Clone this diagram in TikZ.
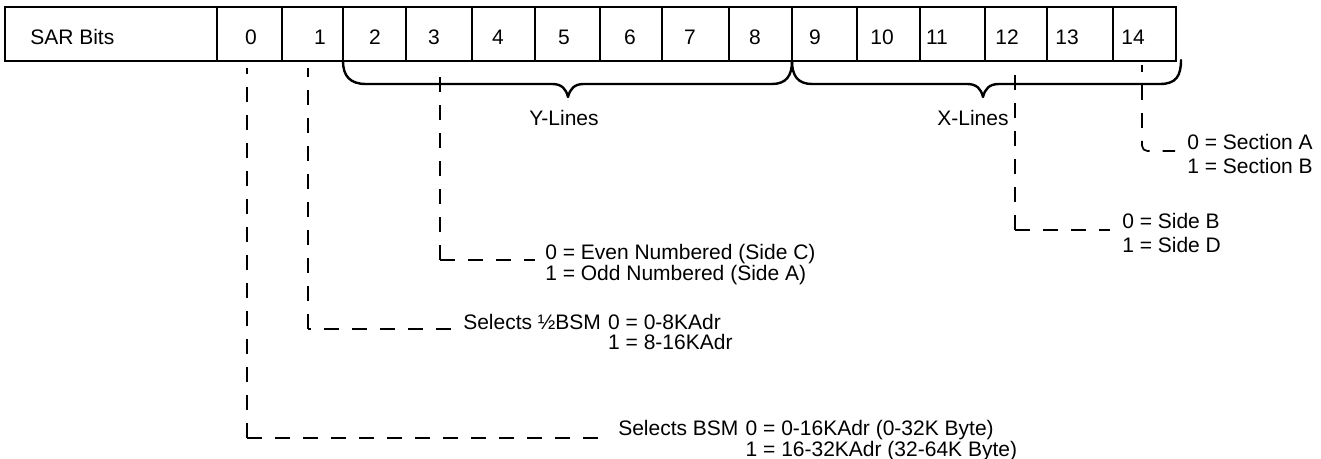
\documentclass[tikz,border=0pt]{standalone}
\usepackage{fontspec}
\setmainfont{Liberation Sans}
\usetikzlibrary{fit,calc}
\begin{document}
\begin{tikzpicture}[x=0.75pt,y=-0.75pt,
  cell/.style={draw, line width=1.3pt, inner sep=0pt},
  txt/.style={inner sep=0pt, font=\fontsize{15.75}{18}\selectfont},
  lbl/.style={txt, anchor=base west},
  brace/.style={line width=1.8pt, line join=round, line cap=round},
  dashline/.style={line width=1.3pt, dash pattern=on 11.25pt off 9.75pt},
]
\useasboundingbox (0,0) rectangle (1321,459);

% register row
\node[cell, fit={(5,7) (217,61)}] (sar) {};
\node[txt, anchor=west] (sartxt) at (30,37) {SAR Bits};
\foreach \n/\l/\r/\t in {0/217/282/251, 1/282/343/320, 2/343/406/375,
    3/406/472/434, 4/472/535/498, 5/535/600/564, 6/600/662/630,
    7/662/729/690, 8/729/792/755, 9/792/857/815, 10/857/920/882,
    11/920/985/937, 12/985/1047/1007, 13/1047/1113/1067, 14/1113/1176/1133} {
  \node[cell, fit={(\l,7) (\r,61)}] (c\n) {};
  \node[txt] (n\n) at (\t,37) {\n};
}

% braces grouping the address lines
\draw[brace] (343,61) .. controls (343,76) and (350,84) .. (366,84) -- (552,84)
  .. controls (562,84) and (566,89) .. (568,97)
  .. controls (570,89) and (574,84) .. (584,84) -- (772,84)
  .. controls (786,84) and (792,76) .. (792,61);
\draw[brace] (792,61) .. controls (792,76) and (798,84) .. (812,84) -- (967,84)
  .. controls (977,84) and (981,89) .. (983,97)
  .. controls (985,89) and (989,84) .. (999,84) -- (1160,84)
  .. controls (1176,84) and (1181,76) .. (1181,60);
\node[txt] (ylines) at (564,118) {Y-Lines};
\node[txt] (xlines) at (973,118) {X-Lines};

% decoded meanings
\node[lbl] (sec0) at (1187,149.5) {0 = Section A};
\node[lbl] (sec1) at (1187,173.5) {1 = Section B};
\node[lbl] (side0) at (1122,228.5) {0 = Side B};
\node[lbl] (side1) at (1122,252.5) {1 = Side D};
\node[lbl] (even0) at (545,259.5) {0 = Even Numbered (Side C)};
\node[lbl] (even1) at (545,280.5) {1 = Odd Numbered (Side A)};
\node[lbl] (half) at (463,329.5) {Selects ½BSM};
\node[lbl] (half0) at ([xshift=5pt]half.base east) {0 = 0-8KAdr};
\node[lbl] (half1) at ($(half0.base west)+(0,20)$) {1 = 8-16KAdr};
\node[lbl] (bsm) at (618,435.5) {Selects BSM};
\node[lbl] (bsm0) at ([xshift=5pt]bsm.base east) {0 = 0-16KAdr (0-32K Byte)};
\node[lbl] (bsm1) at ($(bsm0.base west)+(0,21)$) {1 = 16-32KAdr (32-64K Byte)};

% leader lines from the bits
\coordinate (t0) at (247,68);   \coordinate (k0) at (247,438);
\coordinate (t1) at (308,68);   \coordinate (k1) at (308,329);
\coordinate (t3) at (440,68);   \coordinate (k3) at (440,260);
\coordinate (t12) at (1015,65); \coordinate (k12) at (1015,230);
\coordinate (t14) at (1142,65); \coordinate (k14) at (1142,141);

\draw[dashline] (k0) -- (t0);
\draw[dashline] (k0) -- ($(k0 -| bsm.west)+(-10,0)$);
\draw[dashline] (k1) -- (t1);
\draw[dashline] ($(k1 -| half.west)+(-12,0)$) -- (k1);
\draw[dashline] (k3) -- (t3);
\draw[dashline] (k3) -- ($(k3 -| even0.west)+(-10,0)$);
\draw[dashline] (k12) -- (t12);
\draw[dashline] (k12) -- ($(k12 -| side0.west)+(-12,0)$);
% bit 14 bends round a rounded corner
\draw[dashline, dash phase=11.25pt] (k14) -- (t14);
\draw[dashline, rounded corners=4pt] (k14) |- ($(k14 -| sec0.west)+(-12,10)$);
\end{tikzpicture}
\end{document}
